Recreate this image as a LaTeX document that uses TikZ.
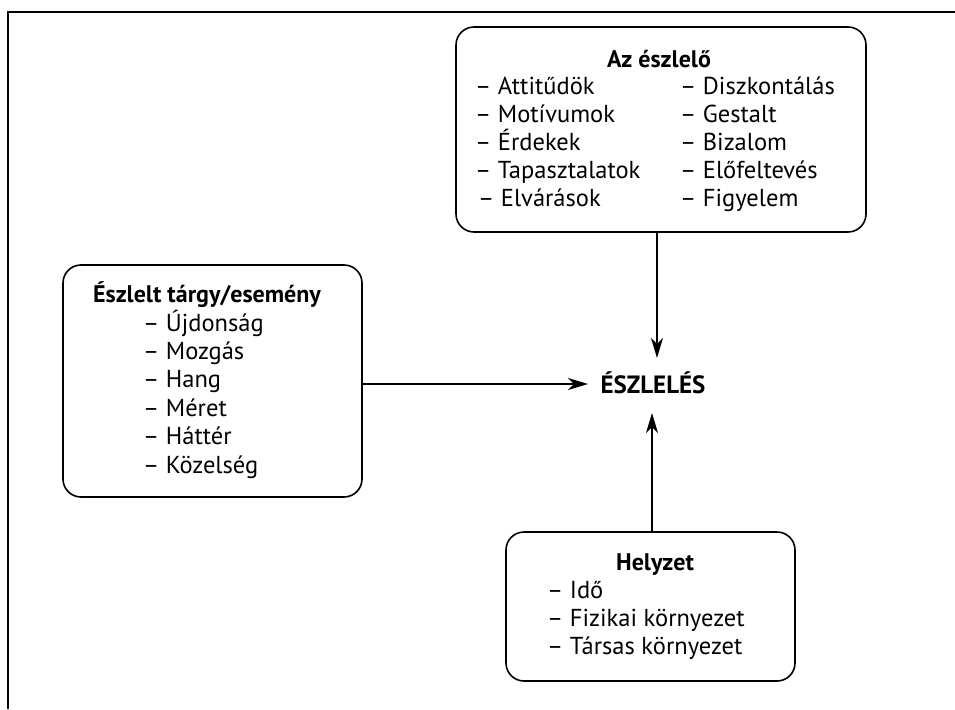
\documentclass[tikz,border=0pt]{standalone}
\usepackage{fontspec}
\setmainfont{PT Sans}
\usetikzlibrary{arrows.meta}
\begin{document}
\begin{tikzpicture}[x=1pt,y=-1pt,
  panel/.style={draw, line width=1.6pt, rounded corners=18pt, inner sep=0pt},
  item/.style={anchor=base west, inner sep=0pt, font=\fontsize{24.5}{29}\selectfont},
  head/.style={anchor=base, inner sep=0pt, font=\fontsize{24}{29}\selectfont\bfseries},
  link/.style={line width=1.2pt, -{Stealth[length=20pt,width=12pt,inset=6pt]}}]
\useasboundingbox (0,0) rectangle (955,709);
% open frame: left and top rules only
\draw[line width=1.6pt] (8,709) -- (8,12) -- (955,12);

% the three panels
\node[panel, minimum width=410pt, minimum height=205pt] (perceiver) at (661,129.5) {};
\node[panel, minimum width=299pt, minimum height=232pt] (target) at (212.5,381) {};
\node[panel, minimum width=289pt, minimum height=149pt] (situation) at (650.5,606.5) {};

% perceiver panel
\node[head] (perceiverhead) at (659,67) {Az észlelő};
\foreach \t [count=\i] in {Attitűdök, Motívumok, Érdekek, Tapasztalatok}
  \node[item] (pa\i) at (475,{94+28*(\i-1)}) {– \t};
\node[item] (pa5) at (478,206) {– Elvárások};
\foreach \t [count=\i] in {Diszkontálás, Gestalt, Bizalom, Előfeltevés, Figyelem}
  \node[item] (pb\i) at (680,{94+28*(\i-1)}) {– \t};

% target panel
\node[head] (targethead) at (207,302) {Észlelt tárgy/esemény};
\foreach \t [count=\i] in {Újdonság, Mozgás, Hang, Méret, Háttér, Közelség}
  \node[item] (ta\i) at (143,{331+28.4*(\i-1)}) {– \t};

% situation panel
\node[head] (situationhead) at (655,570) {Helyzet};
\foreach \t [count=\i] in {Idő, Fizikai környezet, Társas környezet}
  \node[item] (sa\i) at (547,{598+28*(\i-1)}) {– \t};

% central node
\node[head, font=\fontsize{25}{30}\selectfont\bfseries] (percept) at (653,393) {ÉSZLELÉS};

% connectors
\coordinate (tipa) at (657,358);
\coordinate (tipb) at (588,384);
\coordinate (tipc) at (652,413);
\draw[link] (perceiver.south -| tipa) -- (tipa);
\draw[link] (target.east |- tipb) -- (tipb);
\draw[link] (situation.north -| tipc) -- (tipc);
\end{tikzpicture}
\end{document}
